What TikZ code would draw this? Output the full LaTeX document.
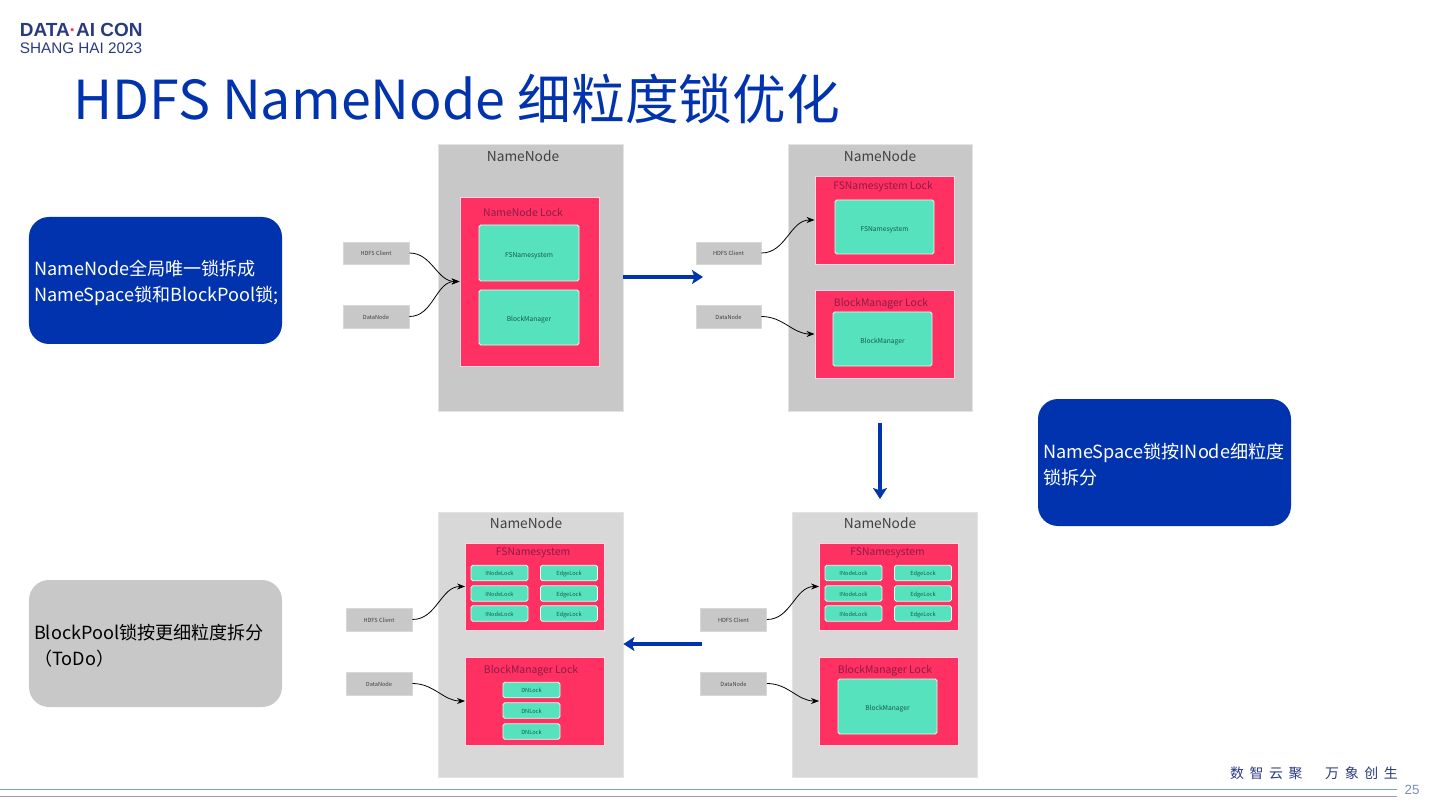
\documentclass[tikz,border=0pt]{standalone}
\usepackage{fontspec}
\setmainfont{Noto Sans CJK SC}
\newfontfamily\logofont{Liberation Sans}
\usetikzlibrary{arrows.meta, positioning}
\definecolor{cblue}{HTML}{0033AD}
\definecolor{cnavy}{HTML}{2A3A80}
\definecolor{cred}{HTML}{FF3062}
\definecolor{cteal}{HTML}{55E2BC}
\definecolor{cwine}{HTML}{8C1C48}
\definecolor{cinner}{HTML}{175A50}
\definecolor{cgrey}{HTML}{C8C8C8}
\definecolor{clight}{HTML}{D8D8D8}
\definecolor{ctext}{HTML}{404040}
\definecolor{cruleup}{HTML}{7FA3B0}
\definecolor{crulelow}{HTML}{A898AC}
\tikzset{
  every picture/.style={line width=0.4pt},
  panel/.style={draw=clight!70, fill=#1, line width=0.5pt, minimum height=5.34cm},
  panel/.default=cgrey,
  lockbox/.style={draw=white!80!cred, fill=cred, line width=0.5pt, minimum width=2.78cm, minimum height=1.76cm},
  cell/.style={draw=white!85!cteal, fill=cteal, rounded corners=1pt, line width=0.5pt, text=cinner, inner sep=0pt, text height=4.8pt, text depth=0pt, font=\fontsize{3.8}{4}\selectfont, minimum width=1.98cm, minimum height=1.08cm},
  tiny/.style={cell, text height=3pt, font=\fontsize{3.2}{4}\selectfont, minimum width=1.14cm, minimum height=0.31cm},
  client/.style={draw=clight, fill=cgrey, line width=0.5pt, text=ctext, inner sep=0pt, text height=3pt, text depth=0pt, font=\fontsize{3.2}{4}\selectfont, minimum width=1.32cm, minimum height=0.46cm},
  pname/.style={text=ctext, inner sep=0pt, font=\fontsize{7.8}{9}\selectfont},
  lname/.style={text=cwine, inner sep=0pt, font=\fontsize{5.9}{7}\selectfont},
  callout/.style={fill=#1, rounded corners=0.4cm, minimum width=5.06cm, minimum height=2.54cm, inner sep=0.1cm, text width=4.86cm, align=left, font=\fontsize{10.3}{14.74}\selectfont, execute at begin node=\rule{0pt}{11.2pt}},
  link/.style={-{Stealth[length=1.6mm, width=1.2mm]}, black, line width=0.45pt},
  flow/.style={-{Stealth[length=2.2mm, width=2.8mm, inset=0.5mm]}, draw=cblue, line width=1.9pt},
  rule/.style={line width=0.4pt},
}
\newcommand{\sg}{\hspace{3.2pt}}
\begin{document}
\begin{tikzpicture}
  \useasboundingbox (0,0) rectangle (28.8,-16.2);

  % header
  \node[anchor=west, inner sep=0pt, text=cnavy, font=\logofont\bfseries\fontsize{10.8}{11}\selectfont] (logoa) at (0.39,-0.6) {DATA\textcolor{cred}{·}AI CON};
  \node[anchor=west, inner sep=0pt, text=cnavy, font=\logofont\fontsize{8.7}{10}\selectfont] (logob) at (0.39,-0.97) {SHANG HAI 2023};
  \node[anchor=base west, inner sep=0pt, text=cblue, font=\fontsize{30.6}{34}\selectfont] (title) at (1.46,-2.4) {HDFS NameNode 细粒度锁优化};

  % callouts
  \node[callout=cblue, text=white] (ca) at (3.11,-5.61) {NameNode全局唯一锁拆成\\NameSpace锁和BlockPool锁;};
  \node[callout=cblue, text=white] (cb) at (23.29,-9.25) {NameSpace锁按INode细粒度\\锁拆分};
  \node[callout=cgrey, text=black] (cc) at (3.11,-12.87) {BlockPool锁按更细粒度拆分\\（ToDo）};

  % first step
  \node[panel, minimum width=3.7cm] (pa) at (10.61,-5.55) {};
  \node[pname] (pal) at (10.46,-3.12) {NameNode};
  \node[lockbox, minimum height=3.38cm] (la) at (10.59,-5.63) {};
  \node[lname] (lal) at (10.46,-4.24) {NameNode Lock};
  \node[cell, minimum width=2cm, minimum height=1.12cm] (fa) at (10.58,-5.06) {FSNamesystem};
  \node[cell, minimum width=2cm, minimum height=1.1cm] (ba) at (10.58,-6.35) {BlockManager};
  \node[client, minimum height=0.44cm] (ha) at (7.52,-5.06) {HDFS Client};
  \node[client] (da) at (7.52,-6.33) {DataNode};
  \draw[link] (ha.east) to[out=0, in=180] (la.west);
  \draw[link] (da.east) to[out=0, in=180] (la.west);

  % second step
  \node[panel, minimum width=3.68cm] (pb) at (17.6,-5.55) {};
  \node[pname] (pbl) at (17.6,-3.12) {NameNode};
  \node[lockbox] (lb) at (17.69,-4.4) {};
  \node[lname] (lbl) at (17.66,-3.74) {FSNamesystem Lock};
  \node[cell] (fb) at (17.69,-4.54) {FSNamesystem};
  \node[lockbox] (mb) at (17.69,-6.68) {};
  \node[lname] (mbl) at (17.62,-6.08) {BlockManager Lock};
  \node[cell] (bb) at (17.65,-6.78) {BlockManager};
  \node[client, minimum width=1.3cm, minimum height=0.44cm] (hb) at (14.57,-5.06) {HDFS Client};
  \node[client, minimum width=1.3cm] (db) at (14.57,-6.33) {DataNode};
  \draw[link] (hb.east) to[out=0, in=180] (lb.west);
  \draw[link] (db.east) to[out=0, in=180] (mb.west);

  % third step
  \node[panel=clight, minimum width=3.7cm, minimum height=5.3cm] (pc) at (10.61,-12.89) {};
  \node[pname] (pcl) at (10.52,-10.46) {NameNode};
  \node[lockbox, minimum height=1.74cm] (lc) at (10.7,-11.73) {};
  \node[lname] (lcl) at (10.66,-11.06) {FSNamesystem};
  \node[tiny] (ic1) at (9.99,-11.46) {INodeLock};
  \node[tiny] (ic2) at (9.99,-11.87) {INodeLock};
  \node[tiny] (ic3) at (9.99,-12.27) {INodeLock};
  \node[tiny] (ec1) at (11.38,-11.46) {EdgeLock};
  \node[tiny] (ec2) at (11.38,-11.87) {EdgeLock};
  \node[tiny] (ec3) at (11.38,-12.27) {EdgeLock};
  \node[lockbox] (mc) at (10.7,-14.02) {};
  \node[lname] (mcl) at (10.62,-13.42) {BlockManager Lock};
  \node[tiny] (dn1) at (10.63,-13.8) {DNLock};
  \node[tiny] (dn2) at (10.63,-14.21) {DNLock};
  \node[tiny] (dn3) at (10.63,-14.63) {DNLock};
  \node[client] (hc) at (7.58,-12.39) {HDFS Client};
  \node[client] (dc) at (7.58,-13.67) {DataNode};
  \draw[link] (hc.east) to[out=0, in=180] (lc.west);
  \draw[link] (dc.east) to[out=0, in=180] (mc.west);

  % fourth step
  \node[panel=clight, minimum width=3.7cm, minimum height=5.3cm] (pd) at (17.69,-12.89) {};
  \node[pname] (pdl) at (17.6,-10.46) {NameNode};
  \node[lockbox, minimum height=1.74cm] (ld) at (17.78,-11.73) {};
  \node[lname] (ldl) at (17.75,-11.06) {FSNamesystem};
  \node[tiny] (id1) at (17.07,-11.46) {INodeLock};
  \node[tiny] (id2) at (17.07,-11.87) {INodeLock};
  \node[tiny] (id3) at (17.07,-12.27) {INodeLock};
  \node[tiny] (ed1) at (18.46,-11.46) {EdgeLock};
  \node[tiny] (ed2) at (18.46,-11.87) {EdgeLock};
  \node[tiny] (ed3) at (18.46,-12.27) {EdgeLock};
  \node[lockbox] (md) at (17.78,-14.02) {};
  \node[lname] (mdl) at (17.7,-13.42) {BlockManager Lock};
  \node[cell, minimum height=1.1cm] (bd) at (17.75,-14.13) {BlockManager};
  \node[client] (hd) at (14.67,-12.39) {HDFS Client};
  \node[client] (dd) at (14.67,-13.67) {DataNode};
  \draw[link] (hd.east) to[out=0, in=180] (ld.west);
  \draw[link] (dd.east) to[out=0, in=180] (md.west);

  % steps between the panels
  \coordinate (abend) at (14.06,-5.54);
  \coordinate (bdtop) at (17.6,-8.46);
  \coordinate (bdend) at (17.6,-9.98);
  \coordinate (dctop) at (14.04,-12.88);
  \draw[flow] (pa.east |- abend) -- (abend);
  \draw[flow] (bdtop) -- (bdend);
  \draw[flow] (dctop) -- (pc.east |- dctop);

  % footer
  \node[anchor=east, inner sep=0pt, text=cnavy, font=\fontsize{7.9}{9}\selectfont] (slogan) at (27.96,-15.46) {数\sg 智\sg 云\sg 聚\hspace{13pt}万\sg 象\sg 创\sg 生};
  \node[inner sep=0pt, text=cgrey!60!cblue, font=\logofont\fontsize{7.6}{8}\selectfont] (pageno) at (28.24,-15.8) {25};
  \coordinate (ruleend) at (27.94,-15.78);
  \coordinate (rulelow) at (27.94,-15.92);
  \draw[rule, draw=cruleup] (0,-15.78) -- (ruleend);
  \draw[rule, draw=crulelow] (0,-15.92) -- (rulelow);
\end{tikzpicture}
\end{document}
